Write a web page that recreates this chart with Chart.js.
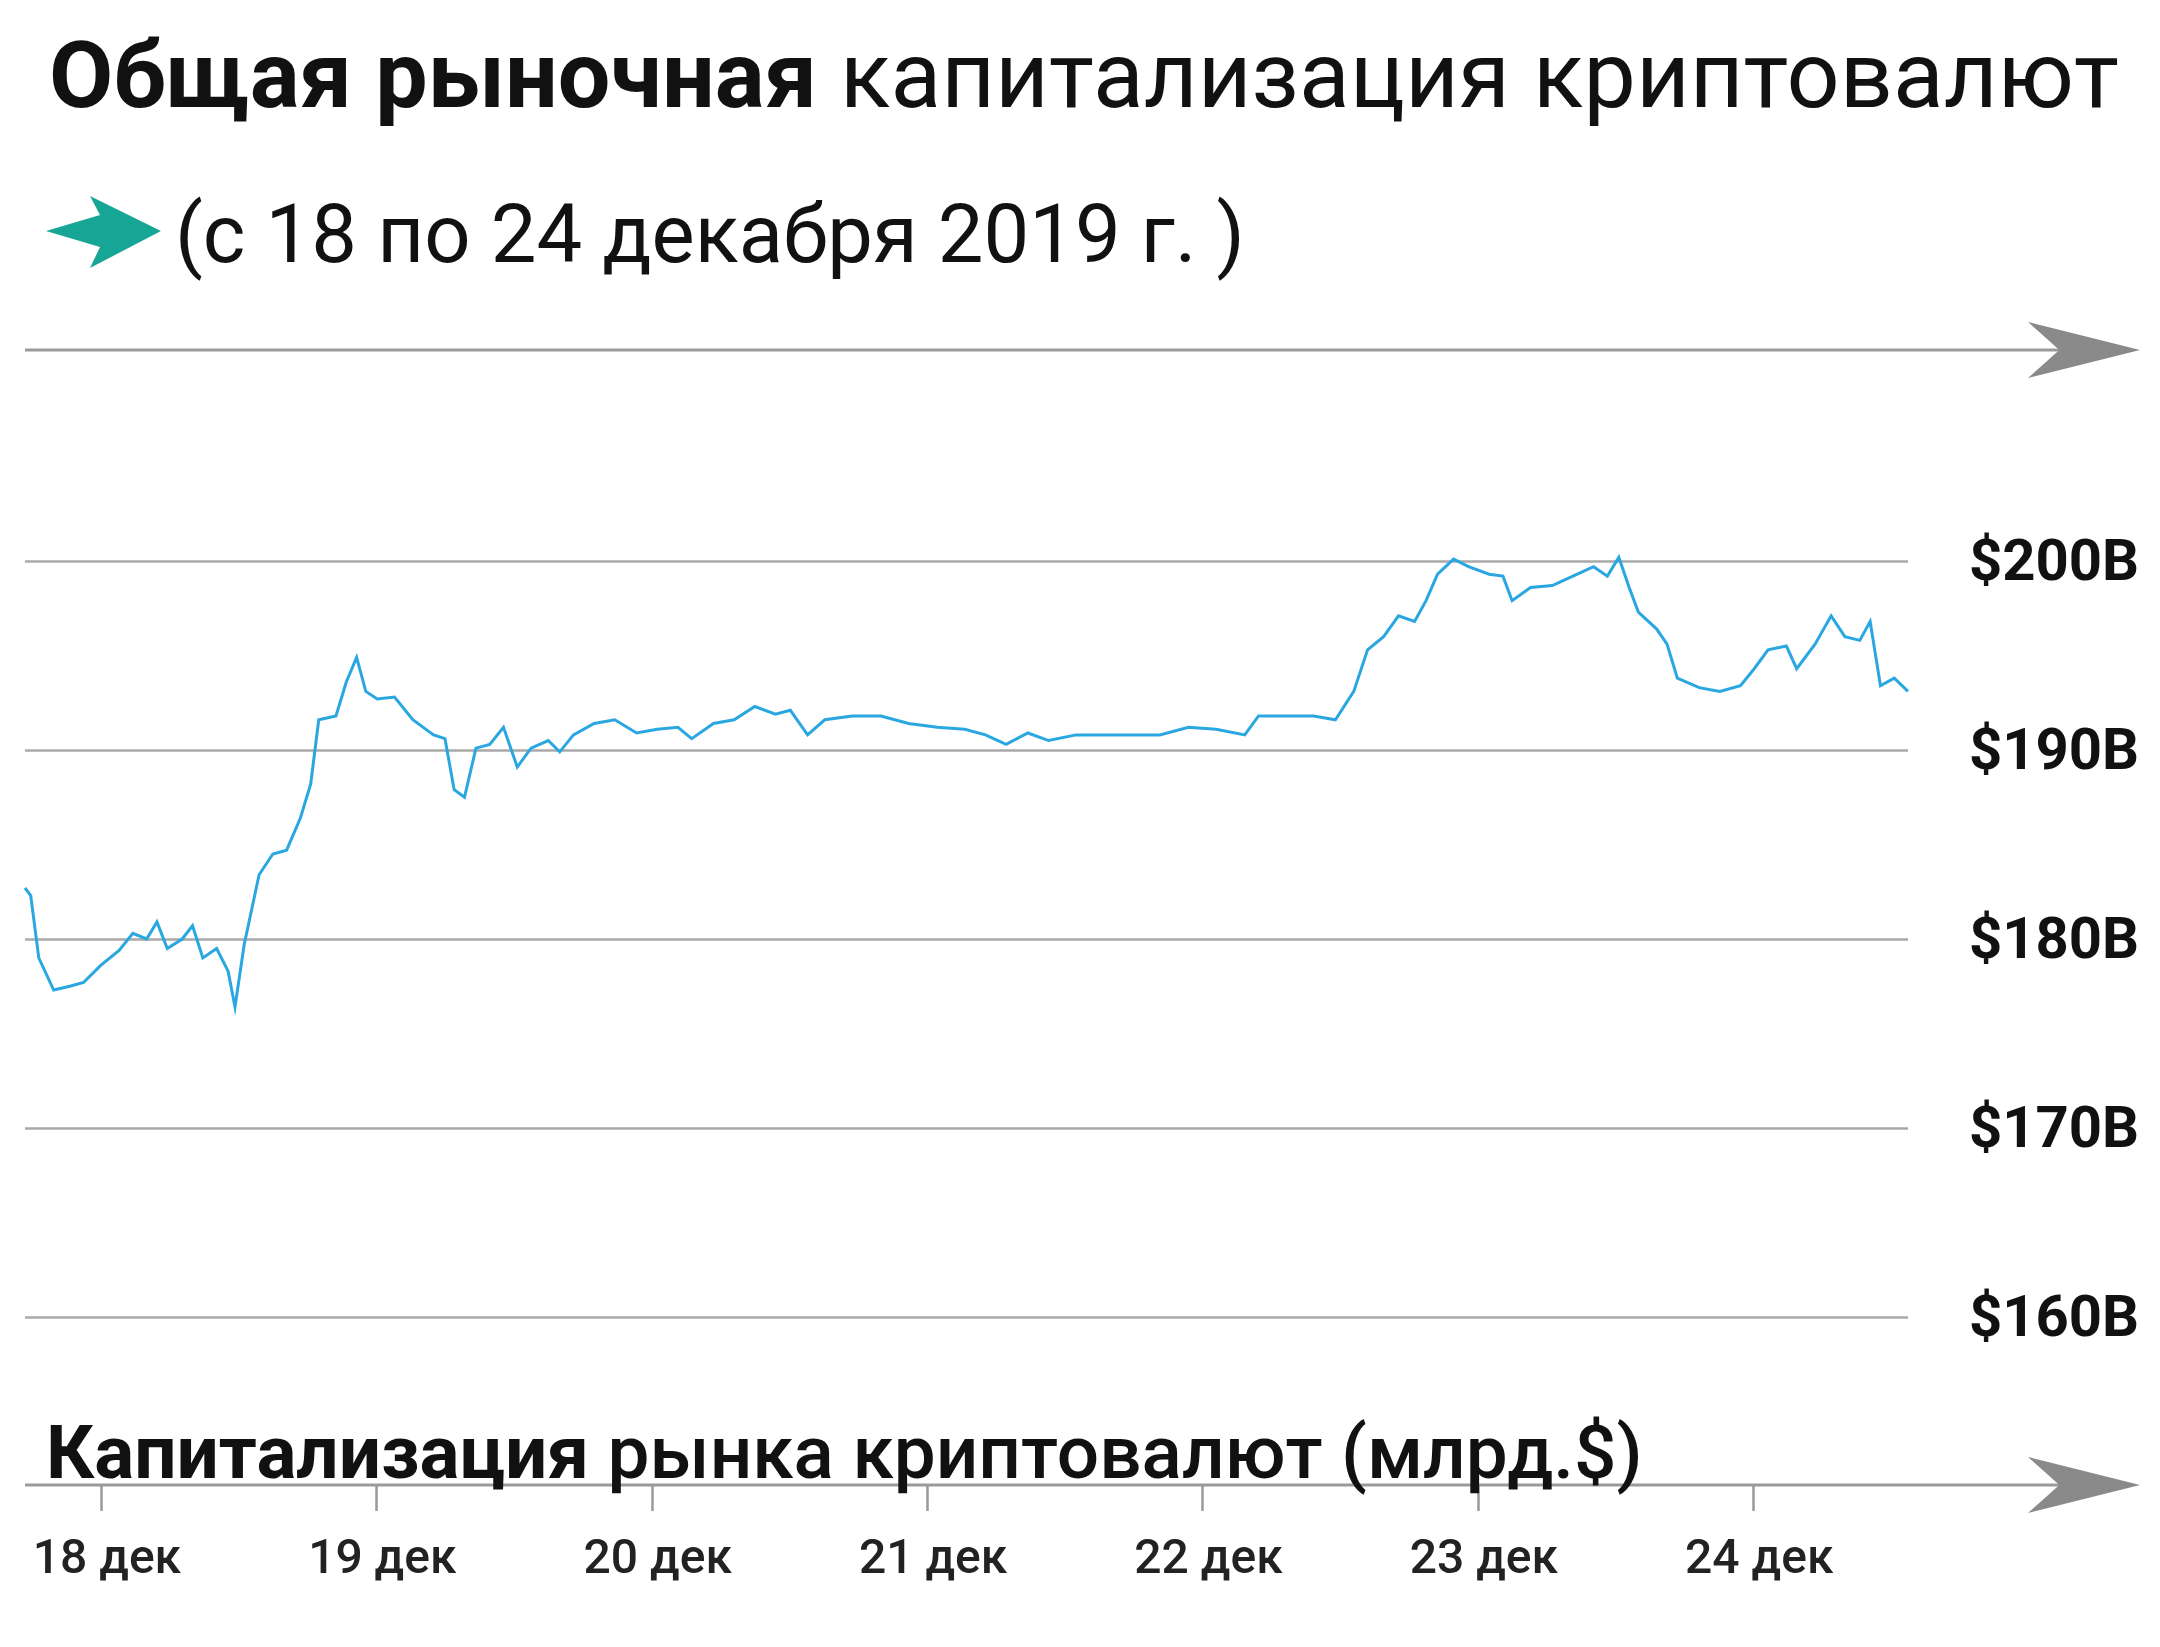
<!DOCTYPE html>
<html>
<head>
<meta charset="utf-8">
<script src="https://cdn.jsdelivr.net/npm/chart.js@4/dist/chart.umd.min.js"></script>
<style>
  html, body { margin: 0; padding: 0; background: #fff; }
  #wrap { position: relative; width: 2160px; height: 1647px; }
</style>
</head>
<body>
<div id="wrap"><canvas id="chart"></canvas></div>
<script>
// hours since 18 Dec 2019 00:00
const hours = [-6.6,-6.1,-5.4,-4.1,-2.7,-1.5,0,1.6,2.8,4.0,4.9,5.8,7.1,8.0,8.9,10.1,11.1,11.7,12.5,13.8,15.0,16.2,17.4,18.3,19.0,20.5,21.4,22.3,23.1,24.1,25.6,27.2,29.0,30.0,30.8,31.7,32.7,33.9,35.1,36.3,37.5,39.0,40.0,41.2,43.0,44.8,46.7,48.5,50.3,51.5,53.4,55.2,57.0,58.8,60.1,61.6,63.1,65.5,68.0,70.4,72.9,75.3,77.1,78.9,80.8,82.6,85.0,87.5,89.9,92.3,94.8,97.2,99.7,100.9,103.3,105.7,107.6,109.2,110.4,111.8,113.1,114.5,115.5,116.5,117.9,119.2,121.0,122.2,123.0,124.6,126.5,128.3,130.1,131.3,132.3,133.2,134.0,135.6,136.5,137.4,139.3,141.1,142.9,144.1,145.3,146.9,147.8,149.4,150.8,152.0,153.3,154.2,155.1,156.3,157.5];
// market cap, $ bn
const marketCap = [182.7,182.3,179.0,177.3,177.5,177.7,178.6,179.4,180.3,180.0,180.9,179.5,180.0,180.7,179.0,179.5,178.3,176.4,179.7,183.4,184.5,184.7,186.4,188.2,191.6,191.8,193.6,194.9,193.1,192.7,192.8,191.6,190.8,190.6,187.9,187.5,190.1,190.3,191.2,189.1,190.1,190.5,189.9,190.8,191.4,191.6,190.9,191.1,191.2,190.6,191.4,191.6,192.3,191.9,192.1,190.8,191.6,191.8,191.8,191.4,191.2,191.1,190.8,190.3,190.9,190.5,190.8,190.8,190.8,190.8,191.2,191.1,190.8,191.8,191.8,191.8,191.6,193.1,195.3,196.0,197.1,196.8,197.9,199.3,200.1,199.7,199.3,199.2,197.9,198.6,198.7,199.2,199.7,199.2,200.2,198.6,197.3,196.4,195.6,193.8,193.3,193.1,193.4,194.3,195.3,195.5,194.3,195.6,197.1,196.0,195.8,196.8,193.4,193.8,193.1];
const dayTicks = [0,24,48,72,96,120,144];
const dayLabels = ["18 дек","19 дек","20 дек","21 дек","22 дек","23 дек","24 дек"];
const yTicks = [200,190,180,170,160];
const yLabels = ["$200B","$190B","$180B","$170B","$160B"];

const W = 2160, H = 1647;
const cv = document.getElementById("chart");
cv.width = W; cv.height = H;
cv.style.width = W + "px"; cv.style.height = H + "px";

const FONT = "Roboto, 'Noto Sans', sans-serif";

function arrowHead(ctx, xTip, y, len, half) {
  ctx.beginPath();
  ctx.moveTo(xTip, y);
  ctx.lineTo(xTip - len, y - half);
  ctx.lineTo(xTip - len * 0.72, y);
  ctx.lineTo(xTip - len, y + half);
  ctx.closePath();
  ctx.fill();
}

function fitFont(ctx, parts, targetW) {
  // parts: [{text, weight}], returns font size so total width matches target
  let total = 0;
  parts.forEach(p => { ctx.font = p.weight + " 100px " + FONT; total += ctx.measureText(p.text).width; });
  return 100 * targetW / total;
}

function drawParts(ctx, parts, x, y, size) {
  parts.forEach(p => {
    ctx.font = p.weight + " " + size + "px " + FONT;
    ctx.fillText(p.text, x, y);
    x += ctx.measureText(p.text).width;
  });
}

const decor = {
  id: "decor",
  beforeDatasetsDraw(chart) {
    const { ctx, scales: { x, y }, chartArea } = chart;
    ctx.save();
    ctx.strokeStyle = "#a9a9a9";
    ctx.lineWidth = 2.5;
    yTicks.forEach(v => {
      const py = Math.round(y.getPixelForValue(v)) + 0.5;
      ctx.beginPath(); ctx.moveTo(chartArea.left, py); ctx.lineTo(chartArea.right, py); ctx.stroke();
    });
    ctx.restore();
  },
  afterDraw(chart) {
    const { ctx, scales: { x, y }, chartArea } = chart;
    ctx.save();
    ctx.fillStyle = "#111";
    ctx.textBaseline = "alphabetic";
    // title
    const title = [{ text: "Общая рыночная ", weight: "bold" }, { text: "капитализация криптовалют", weight: "normal" }];
    drawParts(ctx, title, 49, 107, fitFont(ctx, title, 2070));
    // subtitle + teal arrow
    const sub = [{ text: "(с 18 по 24 декабря 2019 г. )", weight: "normal" }];
    drawParts(ctx, sub, 175, 262, fitFont(ctx, sub, 1070));
    ctx.fillStyle = "#17a596";
    ctx.beginPath();
    ctx.moveTo(46, 231); ctx.lineTo(100, 215); ctx.lineTo(90, 196); ctx.lineTo(161, 231);
    ctx.lineTo(90, 268); ctx.lineTo(100, 247); ctx.closePath(); ctx.fill();

    // top rule with arrow
    ctx.strokeStyle = "#9a9a9a"; ctx.fillStyle = "#8a8a8a"; ctx.lineWidth = 3;
    ctx.beginPath(); ctx.moveTo(25, 350); ctx.lineTo(2110, 350); ctx.stroke();
    arrowHead(ctx, 2140, 350, 112, 28);

    // y labels
    ctx.fillStyle = "#111";
    ctx.textAlign = "right"; ctx.textBaseline = "middle";
    ctx.font = "bold 58px " + FONT;
    yTicks.forEach((v, i) => ctx.fillText(yLabels[i], 2139, y.getPixelForValue(v) + 4));

    // bottom axis
    const axY = 1485;
    ctx.strokeStyle = "#9a9a9a"; ctx.fillStyle = "#8a8a8a"; ctx.lineWidth = 3;
    ctx.beginPath(); ctx.moveTo(25, axY); ctx.lineTo(2110, axY); ctx.stroke();
    arrowHead(ctx, 2140, axY, 112, 28);
    ctx.lineWidth = 2.5;
    dayTicks.forEach(t => {
      const px = Math.round(x.getPixelForValue(t)) + 0.5;
      ctx.beginPath(); ctx.moveTo(px, axY); ctx.lineTo(px, axY + 26); ctx.stroke();
    });
    ctx.fillStyle = "#222";
    ctx.textAlign = "left"; ctx.textBaseline = "alphabetic";
    ctx.font = "500 48px " + FONT;
    dayTicks.forEach((t, i) => ctx.fillText(dayLabels[i], x.getPixelForValue(t) - 68, 1573));

    // bottom title
    ctx.fillStyle = "#111";
    const bt = [{ text: "Капитализация ", weight: "bold" }, { text: "рынка криптовалют (млрд.$)", weight: "500" }];
    drawParts(ctx, bt, 46, 1478, fitFont(ctx, bt, 1597));
    ctx.restore();
  }
};

new Chart(cv, {
  type: "line",
  data: {
    datasets: [{
      data: hours.map((h, i) => ({ x: h, y: marketCap[i] })),
      borderColor: "#2aa7e1",
      borderWidth: 3,
      pointRadius: 0,
      tension: 0,
      clip: false
    }]
  },
  options: {
    responsive: false,
    animation: false,
    devicePixelRatio: 1,
    layout: { padding: { left: 25, right: 252, top: 561, bottom: 330 } },
    plugins: { legend: { display: false }, tooltip: { enabled: false } },
    scales: {
      x: { type: "linear", min: -6.6, max: 157.5, display: false },
      y: { min: 160, max: 200, display: false }
    }
  },
  plugins: [decor]
});
</script>
</body>
</html>
